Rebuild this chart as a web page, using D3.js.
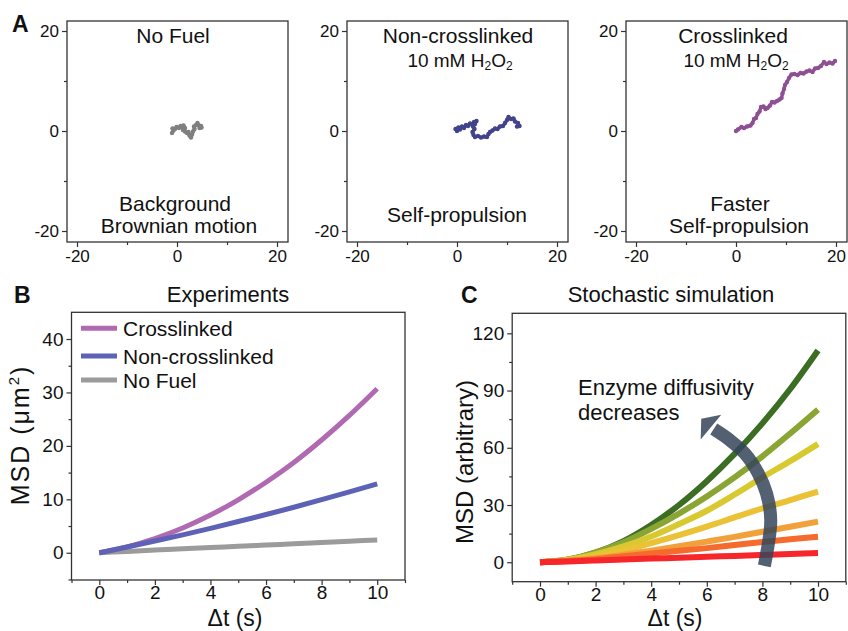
<!DOCTYPE html>
<html><head><meta charset="utf-8">
<script src="https://cdn.jsdelivr.net/npm/d3@7"></script>
<style>
body{margin:0;background:#fff}
svg{display:block}
text{font-family:"Liberation Sans",Arial,Helvetica,sans-serif;fill:#111}
</style>
</head><body>
<svg id="chart" width="848" height="631"></svg>
<script>
// ---------- DATA ----------
// Panel A trajectories (x, y in µm)
const trajNoFuel = [[-1.0,-0.4],[-0.7,0.1],[-0.9,0.5],[-0.4,0.4],[-0.1,0.8],[0.4,0.6],[0.7,1.0],[1.1,0.7],[1.3,1.1],[1.6,0.6],[1.2,0.2],[1.6,-0.1],[2.0,-0.4],[2.3,-0.2],[2.5,-0.9],[2.8,-1.3],[3.0,-0.7],[3.2,-0.1],[3.5,0.4],[3.4,0.9],[3.8,1.2],[4.1,1.6],[4.4,1.1],[4.8,1.0],[4.5,0.6],[4.9,0.7]];
const trajNonCross = [[0,0],[-0.3,0.4],[0.3,0.7],[0.6,0.3],[1.0,0.9],[1.4,0.6],[1.8,1.2],[2.2,1.0],[2.6,1.5],[3.0,1.3],[3.4,1.8],[3.9,2.0],[3.6,1.4],[3.2,0.9],[3.5,0.4],[3.1,-0.2],[3.3,-0.8],[3.6,-1.2],[4.2,-1.0],[4.8,-1.3],[5.4,-1.1],[6.0,-1.2],[6.3,-0.6],[6.6,-0.2],[7.1,0.1],[7.6,0.5],[8.1,0.4],[8.6,0.9],[9.2,1.0],[9.6,1.6],[10.0,2.2],[10.3,2.8],[10.8,2.4],[11.3,2.5],[11.6,1.9],[12.2,1.6],[12.5,1.0],[12.0,0.9]];
const trajCross = [[0,0],[0.4,0.3],[1.1,0.8],[1.6,0.6],[2.2,0.9],[2.9,1.1],[3.3,1.6],[3.6,2.4],[4.0,2.6],[4.3,3.4],[4.7,3.9],[5.0,4.8],[5.5,4.9],[5.9,4.4],[6.3,4.6],[6.8,5.1],[7.2,5.8],[7.7,5.7],[8.2,6.0],[8.7,6.3],[9.1,6.6],[9.3,7.5],[9.6,8.4],[9.8,9.2],[10.2,9.8],[10.6,10.6],[11.1,11.3],[11.7,11.4],[12.3,11.2],[12.9,11.6],[13.5,11.5],[14.1,11.9],[14.7,12.1],[15.3,11.8],[15.8,12.5],[16.4,12.6],[17.0,13.0],[17.6,13.8],[18.1,13.4],[18.7,13.7],[19.3,13.5],[19.8,14.0]];
const trajTicksMajor = [-20, 0, 20];
const trajTicksMinor = [-10, 10];

// Panel B: experimental MSD
const tGrid = [0,1,2,3,4,5,6,7,8,9,10];
const msdCross    = [0,1.11,2.66,4.64,7.06,9.91,13.2,16.9,21.1,25.7,30.7];
const msdNonCross = [0,1.07,2.19,3.35,4.57,5.84,7.15,8.51,9.93,11.39,12.9];
const msdNoFuel   = [0,0.25,0.5,0.74,0.98,1.2,1.44,1.68,1.92,2.16,2.4];
const expNames  = ["Crosslinked","Non-crosslinked","No Fuel"];
const expColors = ["#b06ab2","#5d62b6","#9b9b9b"];
const expYMajor = [0,10,20,30,40];
const expYMinor = [-5,5,15,25,35];
const tMajor = [0,2,4,6,8,10];
const tMinor = [-1,1,3,5,7,9,11];

// Panel C: stochastic simulation MSD (from highest to lowest)
const sim1 = [0,1.3,5,11,19.5,30,42.5,56.8,72.8,90.8,111];
const sim2 = [0,1.4,5.2,10.5,17.5,25.5,34.5,44.5,55.5,67.5,80];
const sim3 = [0,1.3,4.2,8.3,13.5,20,27,35.5,44.5,53,62];
const sim4 = [0,1.1,3.2,6.2,10,14.2,18.7,23.5,28.2,32.6,37];
const sim5 = [0,0.8,2.1,3.9,6.1,8.4,10.8,13.3,16,18.6,21.3];
const sim6 = [0,0.6,1.6,3.1,4.6,6,7.4,9,10.6,12,13.4];
const sim7 = [0,0.4,0.9,1.4,1.9,2.4,2.9,3.3,3.8,4.3,4.8];
const simColors = ["#3b6d22","#8aa533","#d8c930","#ebc236","#f2a03a","#f56a2d","#f7262b"];
const simYMajor = [0,30,60,90,120];
const simYMinor = [15,45,75,105];
// Curved annotation arrow (in t, MSD coordinates)
const arrowShaft = [[8.07,-1.9],[8.3,22],[8.15,36],[7.85,46.6],[7.37,57],[6.83,64],[6.25,69.8]];
const arrowHead = [[5.78,64.3],[6.52,77.3],[5.8,75.2]];

// ---------- DRAW ----------
const svg = d3.select("#chart");
svg.append("rect").attr("width",848).attr("height",631).attr("fill","#fff");
const FRAME = "#333";

function styleAxis(a, fs){
  a.attr("font-size",null).attr("font-family",null);
  a.selectAll(".domain").remove();
  a.selectAll(".tick line").attr("stroke",FRAME).attr("stroke-width",1.2);
  a.selectAll(".tick text").attr("font-size",fs).attr("fill","#111");
}
function addAxes(g, x, y, o) {
  const [x0,x1] = x.range(), [y0,y1] = y.range();
  const fmt = d => String(d);
  const lMaj = g.append("g").attr("transform",`translate(${x0},0)`)
    .call(d3.axisLeft(y).tickValues(o.yMajor).tickSize(5).tickPadding(o.padY).tickFormat(fmt));
  const lMin = g.append("g").attr("transform",`translate(${x0},0)`)
    .call(d3.axisLeft(y).tickValues(o.yMinor).tickSize(3).tickFormat(""));
  const bMaj = g.append("g").attr("transform",`translate(0,${y0})`)
    .call(d3.axisBottom(x).tickValues(o.xMajor).tickSize(5).tickPadding(o.padX).tickFormat(fmt));
  const bMin = g.append("g").attr("transform",`translate(0,${y0})`)
    .call(d3.axisBottom(x).tickValues(o.xMinor).tickSize(3).tickFormat(""));
  [lMaj,lMin,bMaj,bMin].forEach(a=>styleAxis(a,o.fs));
  g.append("rect").attr("x",x0).attr("y",y1).attr("width",x1-x0).attr("height",y0-y1)
   .attr("fill","none").attr("stroke",FRAME).attr("stroke-width",1.3);
}

function panelLabel(txt,x,y){
  svg.append("text").attr("x",x).attr("y",y).attr("font-size",23).attr("font-weight","bold").text(txt);
}
function label(txt,x,y,fs){
  return svg.append("text").attr("x",x).attr("y",y).attr("text-anchor","middle").attr("font-size",fs).text(txt);
}
function h2o2(x,y){
  const t = svg.append("text").attr("x",x).attr("y",y).attr("text-anchor","middle").attr("font-size",19);
  t.append("tspan").text("10 mM H");
  t.append("tspan").attr("font-size",12).attr("dy",3).text("2");
  t.append("tspan").attr("dy",-3).text("O");
  t.append("tspan").attr("font-size",12).attr("dy",3).text("2");
}

// Panel A
const trajPanels = [
  {cx:177, data:trajNoFuel, color:"#7f7f7f"},
  {cx:457, data:trajNonCross, color:"#42438a"},
  {cx:736, data:trajCross, color:"#8e4f93"}
];
trajPanels.forEach(p=>{
  const g = svg.append("g");
  const x = d3.scaleLinear().domain([-22,22.2]).range([p.cx-110,p.cx+111]);
  const y = d3.scaleLinear().domain([-22.2,22]).range([242,21]);
  addAxes(g,x,y,{yMajor:trajTicksMajor,yMinor:trajTicksMinor,xMajor:trajTicksMajor,xMinor:trajTicksMinor,padY:3,padX:3,fs:17});
  g.append("path").datum(p.data)
    .attr("d",d3.line().x(d=>x(d[0])).y(d=>y(d[1])))
    .attr("fill","none").attr("stroke",p.color).attr("stroke-width",3.4).attr("stroke-linejoin","round").attr("stroke-linecap","round");
  g.selectAll("circle").data(p.data).join("circle")
    .attr("cx",d=>x(d[0])).attr("cy",d=>y(d[1])).attr("r",2.2).attr("fill",p.color);
});
panelLabel("A",12,32);
label("No Fuel",173,43,21);
label("Background",175,211,21);
label("Brownian motion",179,233,21);
label("Non-crosslinked",458,43,21);
h2o2(460,67);
label("Self-propulsion",457,222,21);
label("Crosslinked",733,43,21);
h2o2(736,67);
label("Faster",740,211,21);
label("Self-propulsion",739,233,21);

// Panel B
{
  const g = svg.append("g");
  const x = d3.scaleLinear().domain([-1,11]).range([71.5,405]);
  const y = d3.scaleLinear().domain([-5.1,45]).range([580,312.3]);
  addAxes(g,x,y,{yMajor:expYMajor,yMinor:expYMinor,xMajor:tMajor,xMinor:tMinor,padY:3,padX:1,fs:19});
  const series = [msdCross,msdNonCross,msdNoFuel];
  const line = d3.line().x((d,i)=>x(tGrid[i])).y(d=>y(d)).curve(d3.curveMonotoneX);
  [2,0,1].forEach(k=>{
    g.append("path").datum(series[k]).attr("d",line).attr("fill","none")
      .attr("stroke",expColors[k]).attr("stroke-width",5);
  });
  const ly = [328.3,356,380];
  expNames.forEach((n,k)=>{
    g.append("line").attr("x1",81).attr("x2",117).attr("y1",ly[k]).attr("y2",ly[k])
      .attr("stroke",expColors[k]).attr("stroke-width",5);
    g.append("text").attr("x",123).attr("y",ly[k]+7.5).attr("font-size",21).text(n);
  });
  label("Experiments",228,302,22);
  const yl = svg.append("text").attr("transform","translate(29,435) rotate(-90)").attr("text-anchor","middle")
    .attr("font-size",25).attr("letter-spacing",2);
  yl.append("tspan").text("MSD (\u03bcm");
  yl.append("tspan").attr("font-size",15).attr("dy",-10).text("2");
  yl.append("tspan").attr("dy",10).text(")");
  label("\u0394t (s)",235,626,23);
}
panelLabel("B",14,303);

// Panel C
{
  const g = svg.append("g");
  const x = d3.scaleLinear().domain([-1,11]).range([512.2,845.8]);
  const y = d3.scaleLinear().domain([-10.2,130.5]).range([581.7,313.3]);
  addAxes(g,x,y,{yMajor:simYMajor,yMinor:simYMinor,xMajor:tMajor,xMinor:tMinor,padY:3,padX:1,fs:19});
  const sims = [sim1,sim2,sim3,sim4,sim5,sim6,sim7];
  const line = d3.line().x((d,i)=>x(tGrid[i])).y(d=>y(d)).curve(d3.curveMonotoneX);
  sims.forEach((s,k)=>{
    g.append("path").datum(s).attr("d",line).attr("fill","none")
      .attr("stroke",simColors[k]).attr("stroke-width",6);
  });
  // curved arrow
  const aLine = d3.line().x(d=>x(d[0])).y(d=>y(d[1])).curve(d3.curveCatmullRom);
  const ag = g.append("g").attr("opacity",0.85);
  ag.append("path").datum(arrowShaft).attr("d",aLine).attr("fill","none")
    .attr("stroke","#36455a").attr("stroke-width",13);
  ag.append("path").datum(arrowHead)
    .attr("d",d=>"M"+d.map(p=>x(p[0])+","+y(p[1])).join("L")+"Z").attr("fill","#36455a");
  svg.append("text").attr("x",578).attr("y",395).attr("font-size",22).text("Enzyme diffusivity");
  svg.append("text").attr("x",578).attr("y",420).attr("font-size",22).text("decreases");
  label("Stochastic simulation",671,302,22);
  svg.append("text").attr("transform","translate(473,462) rotate(-90)").attr("text-anchor","middle").attr("font-size",24).text("MSD (arbitrary)");
  label("\u0394t (s)",675,626,23);
}
panelLabel("C",461,303);
</script>
</body></html>
